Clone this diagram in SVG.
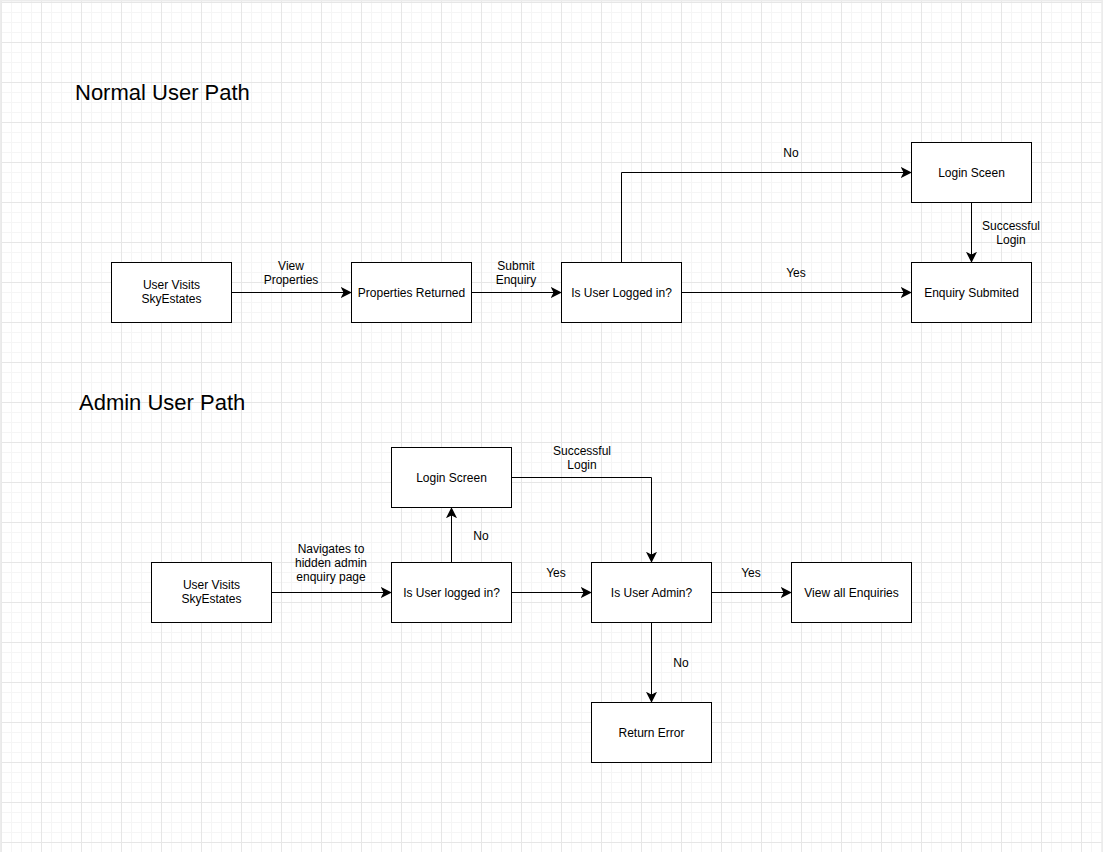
<svg xmlns="http://www.w3.org/2000/svg" width="1103" height="852" viewBox="0 0 1103 852">
<style>
.box{fill:#ffffff;stroke:#000000;stroke-width:1}
.t{font-family:"Liberation Sans",Arial,sans-serif;font-size:12px;fill:#000000;text-anchor:middle}
.title{font-family:"Liberation Sans",Arial,sans-serif;font-size:22px;fill:#000000}
.edge{fill:none;stroke:#000000;stroke-width:1}
</style>
<defs>
<pattern id="grid" patternUnits="userSpaceOnUse" x="1" y="2" width="40" height="40">
<path d="M10.5,0V40M20.5,0V40M30.5,0V40M0,10.5H40M0,20.5H40M0,30.5H40" stroke="#f5f5f5" stroke-width="1" fill="none"/>
<path d="M0.5,0V40M0,0.5H40" stroke="#e6e6e6" stroke-width="1" fill="none"/>
</pattern>
<marker id="arr" markerUnits="userSpaceOnUse" markerWidth="12" markerHeight="12" viewBox="-8 -5 10 10" refX="0" refY="0" orient="auto">
<path d="M0,0 L-7,-3.5 L-5.25,0 L-7,3.5 Z" fill="#000000" stroke="#000000" stroke-width="1"/>
</marker>
</defs>
<rect width="1103" height="852" fill="#ffffff"/>
<rect width="1103" height="852" fill="url(#grid)"/>
<path d="M0,0.75H1103M0.75,0V852M1102.25,0V852" stroke="#ececec" stroke-width="1.5" fill="none"/>

<text class="title" x="75" y="100">Normal User Path</text>
<text class="title" x="79" y="410">Admin User Path</text>

<g id="connectors">
<path class="edge" d="M231.5,292.5H350.5" marker-end="url(#arr)"/>
<path class="edge" d="M471.5,292.5H560.5" marker-end="url(#arr)"/>
<path class="edge" d="M621.5,262.5V172.5H910.5" marker-end="url(#arr)"/>
<path class="edge" d="M681.5,292.5H910.5" marker-end="url(#arr)"/>
<path class="edge" d="M971.5,202.5V261.5" marker-end="url(#arr)"/>
<path class="edge" d="M271.5,592.5H390.5" marker-end="url(#arr)"/>
<path class="edge" d="M451.5,562.5V508.5" marker-end="url(#arr)"/>
<path class="edge" d="M511.5,477.5H651.5V561.5" marker-end="url(#arr)"/>
<path class="edge" d="M511.5,592.5H590.5" marker-end="url(#arr)"/>
<path class="edge" d="M711.5,592.5H790.5" marker-end="url(#arr)"/>
<path class="edge" d="M651.5,622.5V701.5" marker-end="url(#arr)"/>
<text class="t" x="291" y="270">View</text>
<text class="t" x="291" y="284">Properties</text>
<text class="t" x="516" y="270">Submit</text>
<text class="t" x="516" y="284">Enquiry</text>
<text class="t" x="791" y="157">No</text>
<text class="t" x="796" y="277">Yes</text>
<text class="t" x="1011" y="230">Successful</text>
<text class="t" x="1011" y="244">Login</text>
<text class="t" x="331" y="553">Navigates to</text>
<text class="t" x="331" y="567">hidden admin</text>
<text class="t" x="331" y="581">enquiry page</text>
<text class="t" x="481" y="540">No</text>
<text class="t" x="582" y="455">Successful</text>
<text class="t" x="582" y="469">Login</text>
<text class="t" x="556" y="577">Yes</text>
<text class="t" x="751" y="577">Yes</text>
<text class="t" x="681" y="667">No</text>
</g>

<g id="n1"><rect class="box" x="111.5" y="262.5" width="120" height="60"/><text class="t" x="171.5" y="289">User Visits</text><text class="t" x="171.5" y="303">SkyEstates</text></g>
<g id="n2"><rect class="box" x="351.5" y="262.5" width="120" height="60"/><text class="t" x="411.5" y="296.5">Properties Returned</text></g>
<g id="n3"><rect class="box" x="561.5" y="262.5" width="120" height="60"/><text class="t" x="621.5" y="296.5">Is User Logged in?</text></g>
<g id="n4"><rect class="box" x="911.5" y="142.5" width="120" height="60"/><text class="t" x="971.5" y="176.5">Login Sceen</text></g>
<g id="n5"><rect class="box" x="911.5" y="262.5" width="120" height="60"/><text class="t" x="971.5" y="296.5">Enquiry Submited</text></g>

<g id="a1"><rect class="box" x="151.5" y="562.5" width="120" height="60"/><text class="t" x="211.5" y="589">User Visits</text><text class="t" x="211.5" y="603">SkyEstates</text></g>
<g id="a2"><rect class="box" x="391.5" y="562.5" width="120" height="60"/><text class="t" x="451.5" y="596.5">Is User logged in?</text></g>
<g id="a3"><rect class="box" x="391.5" y="447.5" width="120" height="60"/><text class="t" x="451.5" y="481.5">Login Screen</text></g>
<g id="a4"><rect class="box" x="591.5" y="562.5" width="120" height="60"/><text class="t" x="651.5" y="596.5">Is User Admin?</text></g>
<g id="a5"><rect class="box" x="791.5" y="562.5" width="120" height="60"/><text class="t" x="851.5" y="596.5">View all Enquiries</text></g>
<g id="a6"><rect class="box" x="591.5" y="702.5" width="120" height="60"/><text class="t" x="651.5" y="736.5">Return Error</text></g>
</svg>
